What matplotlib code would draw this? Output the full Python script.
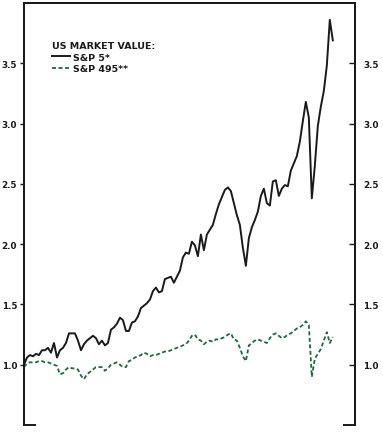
import matplotlib
matplotlib.use("Agg")
import matplotlib.pyplot as plt
import numpy as np

# ---- data (relative market value) ----
sp5 = [1.00, 1.06, 1.08, 1.07, 1.09, 1.08, 1.12, 1.12, 1.14, 1.10,
       1.18, 1.06, 1.12, 1.14, 1.18, 1.26, 1.26, 1.26, 1.20, 1.12,
       1.17, 1.20, 1.22, 1.24, 1.22, 1.17, 1.20, 1.16, 1.18, 1.29,
       1.31, 1.34, 1.39, 1.37, 1.28, 1.28, 1.35, 1.36, 1.40, 1.47,
       1.49, 1.51, 1.54, 1.61, 1.64, 1.60, 1.61, 1.71, 1.72, 1.73,
       1.68, 1.73, 1.78, 1.89, 1.93, 1.92, 2.02, 1.99, 1.90, 2.08,
       1.95, 2.08, 2.12, 2.16, 2.25, 2.33, 2.39, 2.45, 2.47, 2.44,
       2.34, 2.24, 2.16, 1.97, 1.82, 2.05, 2.14, 2.20, 2.27, 2.40,
       2.46, 2.34, 2.32, 2.52, 2.53, 2.40, 2.46, 2.49, 2.48, 2.61,
       2.67, 2.73, 2.85, 3.02, 3.18, 3.05, 2.38, 2.65, 2.98, 3.14,
       3.27, 3.48, 3.86, 3.69]
sp495 = [0.98, 1.01, 1.02, 1.02, 1.02, 1.03, 1.03, 1.02, 1.02, 1.01,
         1.00, 0.99, 0.92, 0.93, 0.96, 0.98, 0.97, 0.97, 0.96, 0.91,
         0.88, 0.92, 0.94, 0.96, 0.98, 0.98, 0.98, 0.95, 0.97, 1.00,
         1.01, 1.02, 1.00, 0.98, 0.98, 1.03, 1.04, 1.06, 1.07, 1.08,
         1.10, 1.09, 1.07, 1.08, 1.08, 1.09, 1.10, 1.11, 1.11, 1.12,
         1.13, 1.14, 1.15, 1.16, 1.17, 1.20, 1.24, 1.25, 1.21, 1.20,
         1.17, 1.19, 1.20, 1.19, 1.21, 1.21, 1.22, 1.23, 1.25, 1.26,
         1.21, 1.20, 1.14, 1.07, 1.03, 1.16, 1.18, 1.20, 1.21, 1.20,
         1.19, 1.18, 1.22, 1.25, 1.26, 1.24, 1.22, 1.23, 1.25, 1.26,
         1.28, 1.30, 1.31, 1.33, 1.36, 1.33, 0.90, 1.05, 1.09, 1.13,
         1.20, 1.27, 1.18, 1.23]
t = np.arange(len(sp5))
yticks = [1.0, 1.5, 2.0, 2.5, 3.0, 3.5]
ytick_labels = ["1.0", "1.5", "2.0", "2.5", "3.0", "3.5"]
legend_title = "US MARKET VALUE:"
label5 = "S&P 5*"
label495 = "S&P 495**"

W, H = 383, 435
fig = plt.figure(figsize=(W / 100, H / 100), dpi=100)
ax = fig.add_axes([24 / W, 9 / H, 331 / W, 422 / H])

dark = "#1a1a1a"
green = "#1d6b3c"
ax.plot(t, sp5, color=dark, lw=1.4, label=label5, solid_joinstyle="round")
ax.plot(t, sp495, color=green, lw=1.3, ls=(0, (2.2, 1.4)), label=label495)

ax.set_xlim(0, 110.4)
ax.set_ylim(0.5, 4.0)

ax2 = ax.twinx()
ax2.set_ylim(ax.get_ylim())

for a in (ax, ax2):
    for s in ["left", "right", "top"]:
        a.spines[s].set_color(dark)
        a.spines[s].set_linewidth(1.4)
    a.spines["bottom"].set_visible(False)
    a.set_xticks([])
    a.set_yticks(yticks)

# short corner segments at bottom
for x0, x1 in [(0, 0.035), (0.965, 1.0)]:
    ax.plot([x0, x1], [0.0, 0.0], transform=ax.transAxes, color=dark,
            lw=1.4, clip_on=False, solid_capstyle="butt")

ax.set_yticklabels(ytick_labels)
ax.tick_params(axis="y", left=True, right=False, labelleft=True,
               labelright=False, labelsize=6.3, colors=dark, width=1.0,
               length=3, direction="out", pad=2)
ax2.set_yticklabels(ytick_labels)
ax2.tick_params(axis="y", left=False, right=True, labelleft=False,
                labelright=True, labelsize=6.3, colors=dark, width=1.0,
                length=4, direction="in", pad=6)
for a in (ax, ax2):
    for lab in a.get_yticklabels():
        lab.set_fontweight("bold")

leg = ax.legend(loc="upper left", bbox_to_anchor=(0.065, 0.925),
                frameon=False, title=legend_title, alignment="left",
                fontsize=6.8, title_fontsize=6.8, handlelength=1.9,
                handletextpad=0.3, labelspacing=0.25, borderpad=0.2)
leg.get_title().set_fontweight("bold")
leg.get_title().set_color(dark)
for txt in leg.get_texts():
    txt.set_fontweight("bold")
    txt.set_color(dark)

fig.savefig("out.png", dpi=100)
